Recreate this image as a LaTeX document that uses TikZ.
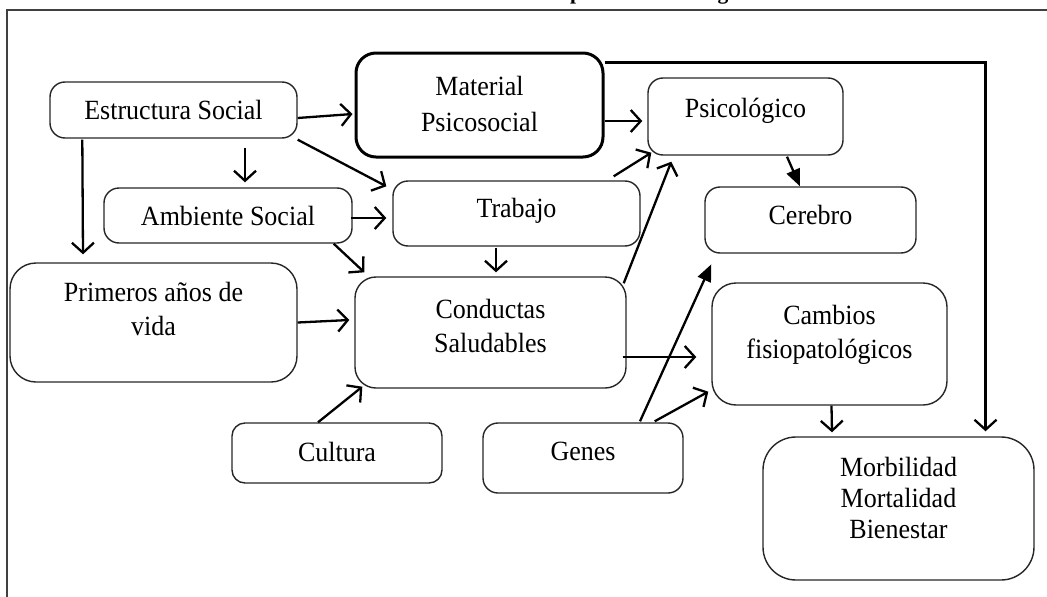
\documentclass[tikz,border=0pt]{standalone}
\usepackage{fontspec}
\setmainfont{Liberation Serif}
\usetikzlibrary{arrows.meta,calc}
\begin{document}
\begin{tikzpicture}[x=1pt,y=-1pt,
  box/.style={draw=black!85,line width=1.4pt,rounded corners=15pt,inner sep=0pt},
  thickbox/.style={draw=black,line width=3pt,rounded corners=20pt,inner sep=0pt},
  lbl/.style={font=\fontsize{26}{32}\selectfont,align=center,inner sep=0pt,yscale=1.07},
  arr/.style={line width=2.3pt,-{Straight Barb[length=10pt,width=22pt]}},
  farr/.style={line width=2.3pt,-{Triangle[length=17pt,width=14pt]}}]
\useasboundingbox (0,0) rectangle (1047,597);
\clip (0,0) rectangle (1047,597);

% heading above the frame (only its lowest part lies on the page)
\node[font=\fontsize{21.5}{26}\selectfont\bfseries,anchor=base west,inner sep=0pt]
  (title) at (444,-1) {Modelo conceptual de la biología};

% outer frame
\draw[black!75,line width=2pt] (7,640) -- (7,9.5) -- (1070,9.5);

% boxes
\node[box,minimum width=247,minimum height=56] (es) at (173.5,110) {};
\node[thickbox,minimum width=247,minimum height=104] (mp) at (479.5,105) {};
\node[box,minimum width=195,minimum height=77] (ps) at (745.5,116.5) {};
\node[box,minimum width=211,minimum height=66] (ce) at (810.5,220) {};
\node[box,minimum width=248,minimum height=55] (am) at (228,215.5) {};
\node[box,minimum width=247,minimum height=65] (tr) at (516.5,213.5) {};
\node[box,rounded corners=26pt,minimum width=287,minimum height=119] (pr) at (153.5,322.5) {};
\node[box,rounded corners=21pt,minimum width=271,minimum height=111] (co) at (490.5,332.5) {};
\node[box,rounded corners=24pt,minimum width=235,minimum height=122] (ca) at (829.5,344) {};
\node[box,rounded corners=13pt,minimum width=210,minimum height=60] (cu) at (337,453) {};
\node[box,minimum width=200,minimum height=70] (ge) at (583,458) {};
\node[box,rounded corners=33pt,minimum width=271,minimum height=143] (mo) at (898.5,508.5) {};

% box texts
\node[lbl] (esT) at (173.5,110) {Estructura Social};
\node[lbl,font=\fontsize{26}{33}\selectfont] (mpT) at (479.5,104) {Material\\Psicosocial};
\node[lbl] (psT) at (745.5,110.5) {Psicológico};
\node[lbl] (ceT) at (810.5,215) {Cerebro};
\node[lbl] (amT) at (228,216) {Ambiente Social};
\node[lbl] (trT) at (516.5,211) {Trabajo};
\node[lbl] (prT) at (153.5,309) {Primeros años de\\vida};
\node[lbl,font=\fontsize{26}{31}\selectfont] (coT) at (490.5,326) {Conductas\\Saludables};
\node[lbl] (caT) at (829.5,335) {Cambios\\fisiopatológicos};
\node[lbl] (cuT) at (337,451.5) {Cultura};
\node[lbl] (geT) at (583,451.5) {Genes};
\node[lbl,font=\fontsize{26}{29}\selectfont] (moT) at (898.5,498) {Morbilidad\\Mortalidad\\Bienestar};

% connectors
\draw[arr] ($(es.east)+(0,8)$) -- ($(mp.west)+(-2,9)$);
\draw[arr] ($(es.south east)+(0,1)$) -- ($(tr.north west)+(-6,6)$);
\draw[arr] ($(es.south)+(71.5,9)$) -- ($(am.north)+(17,-5)$);
\draw[arr] ($(es.south west)+(33,1)$) -- ($(pr.north)+(-70.5,-8)$);
\draw[arr] ($(am.east)+(-2,2.5)$) -- ($(tr.west)+(-6,4.5)$);
\draw[arr] ($(am.south east)+(-19,0)$) -- ($(co.north west)+(10,-4)$);
\draw[arr] ($(tr.south)+(-20.5,1)$) -- ($(co.north)+(5.5,-4)$);
\draw[arr] ($(tr.north east)+(-27,-4)$) -- ($(ps.south west)+(4,-3)$);
\draw[arr] ($(co.north east)+(-3,7)$) -- ($(ps.south west)+(24,6)$);
\draw[arr] ($(mp.east)+(0,16)$) -- ($(ps.west)+(-5,4.5)$);
\draw[arr] ($(mp.north east)+(0,11)$) -| ($(mo.north)+(87,-5)$);
\draw[farr] ($(ps.south)+(41.5,1)$) -- ($(ce.north)+(-10.5,0)$);
\draw[arr] (pr.east) -- ($(co.west)+(-5,-12.5)$);
\draw[arr] ($(co.east)+(-4,24.5)$) -- ($(ca.west)+(-15,13)$);
\coordinate (gtip) at ($(ca.north west)+(0,-18)$);
\draw[farr] ($(ge.north)+(57,-1)$) -- (gtip);
\draw[arr] ($(ge.north east)+(-29,-1)$) -- ($(ca.south west)+(-3,-14)$);
\draw[arr] ($(cu.north)+(-19,0)$) -- ($(co.south west)+(8,-2)$);
\draw[arr] ($(ca.south)+(2,0)$) -- ($(mo.north)+(-66.5,-4)$);
\end{tikzpicture}
\end{document}
